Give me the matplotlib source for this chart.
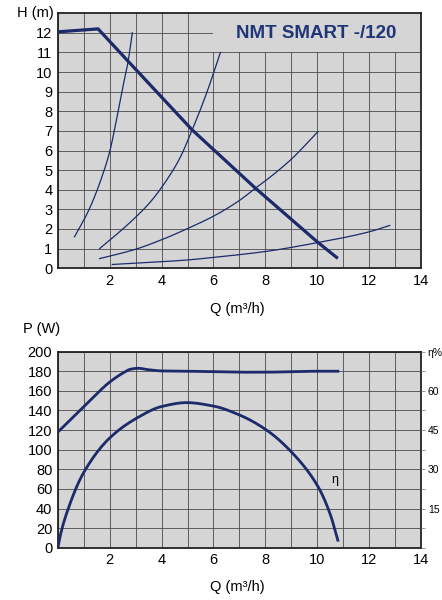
import matplotlib.pyplot as plt
import numpy as np

plt.rcParams['font.family'] = ['Liberation Sans', 'DejaVu Sans']

# pump curve H(Q)
pump_q = [0.0, 1.55, 2.71, 5.18, 7.62, 10.0, 10.8]
pump_h = [12.05, 12.2, 10.55, 7.05, 4.08, 1.35, 0.5]

# system curves
sys1_q = [0.64, 1.0, 1.29, 1.67, 2.0, 2.25, 2.5, 2.71, 2.87]
sys1_h = [1.6, 2.45, 3.25, 4.55, 5.95, 7.5, 9.2, 10.55, 12.0]
sys2_q = [1.61, 2.2, 2.96, 3.55, 4.2, 4.7, 5.18, 5.73, 6.27]
sys2_h = [1.0, 1.65, 2.55, 3.35, 4.5, 5.6, 7.05, 8.9, 11.0]
sys3_q = [1.61, 2.96, 4.0, 5.0, 6.0, 7.0, 7.62, 8.0, 9.0, 10.03]
sys3_h = [0.49, 0.95, 1.45, 2.02, 2.65, 3.45, 4.08, 4.45, 5.55, 6.96]
sys4_q = [2.1, 4.0, 5.0, 6.0, 8.0, 10.0, 12.0, 12.8]
sys4_h = [0.19, 0.33, 0.42, 0.55, 0.85, 1.3, 1.85, 2.18]

# power P(Q)
pow_q = [0.0, 0.5, 1.0, 1.5, 2.0, 2.5, 2.8, 3.1, 3.5, 4.0, 5.0, 6.0, 7.0, 8.0, 9.0, 10.0, 10.8]
pow_p = [118, 131, 144, 157, 169, 178, 182, 183, 181.5, 180.3, 180, 179.5, 179, 179, 179.6, 180, 180]

# efficiency eta(Q) in %
eta_q = [0.0, 0.1, 0.33, 0.98, 2.0, 3.03, 4.0, 4.96, 5.99, 7.0, 8.05, 9.07, 10.04, 10.5, 10.8]
eta_v = [0.0, 5.0, 13.0, 28.5, 42.0, 49.5, 54.0, 55.5, 54.2, 50.8, 45.0, 36.0, 23.3, 13.0, 2.9]

navy = '#1b2a6b'
bg = '#d5d5d5'
gridc = '#4a4a4a'


def smooth(x, y, n=200):
    x = np.asarray(x, float)
    y = np.asarray(y, float)
    t = np.linspace(x[0], x[-1], n)
    # monotone cubic (PCHIP-like) through the read points
    h = np.diff(x)
    d = np.diff(y) / h
    m = np.zeros_like(y)
    m[0], m[-1] = d[0], d[-1]
    for i in range(1, len(x) - 1):
        if d[i - 1] * d[i] > 0:
            w1 = 2 * h[i] + h[i - 1]
            w2 = h[i] + 2 * h[i - 1]
            m[i] = (w1 + w2) / (w1 / d[i - 1] + w2 / d[i])
    k = np.clip(np.searchsorted(x, t) - 1, 0, len(x) - 2)
    s = (t - x[k]) / h[k]
    h00 = 2 * s**3 - 3 * s**2 + 1
    h10 = s**3 - 2 * s**2 + s
    h01 = -2 * s**3 + 3 * s**2
    h11 = s**3 - s**2
    return t, h00 * y[k] + h10 * h[k] * m[k] + h01 * y[k + 1] + h11 * h[k] * m[k + 1]


fig = plt.figure(figsize=(4.42, 6.0), dpi=100)
ax1 = fig.add_axes([0.131, 0.553, 0.821, 0.425])
ax2 = fig.add_axes([0.131, 0.087, 0.821, 0.327])

for ax in (ax1, ax2):
    ax.set_facecolor(bg)
    ax.set_xlim(0, 14)
    ax.set_xticks(range(2, 15, 2))
    ax.set_xticks(range(0, 15), minor=True)
    ax.grid(True, which='both', color=gridc, linewidth=0.6)
    ax.set_axisbelow(True)
    ax.tick_params(which='both', length=0, labelsize=10.5, pad=4)
    for sp in ax.spines.values():
        sp.set_linewidth(1.3)
        sp.set_color('#222222')

# top chart
ax1.set_ylim(0, 13)
ax1.set_yticks(range(0, 13))
ax1.add_patch(plt.Rectangle((6.0, 11.03), 8.0, 2.0, facecolor=bg, edgecolor='none', zorder=1))
ax1.text(9.95, 11.95, 'NMT SMART -/120', color='#1f3577', fontsize=13.5,
         fontweight='bold', ha='center', va='center', zorder=2)
for q, h in [(sys1_q, sys1_h), (sys2_q, sys2_h), (sys3_q, sys3_h), (sys4_q, sys4_h)]:
    tq, th = smooth(q, h)
    ax1.plot(tq, th, color=navy, linewidth=0.9, zorder=3)
ax1.plot(pump_q, pump_h, color=navy, linewidth=2.3, zorder=4, solid_capstyle='butt')
fig.text(0.08, 0.979, 'H (m)', fontsize=10.5, ha='center', va='center')
fig.text(0.537, 0.485, 'Q (m³/h)', fontsize=10.5, ha='center', va='center')

# bottom chart
ax2.set_ylim(0, 200)
ax2.set_yticks(range(0, 201, 20))
tq, tp = smooth(pow_q, pow_p)
ax2.plot(tq, tp, color=navy, linewidth=2.0, zorder=4)
ax3 = ax2.twinx()
ax3.set_ylim(0, 75)
ax3.set_yticks(np.arange(0, 75.1, 7.5))
ax3.set_yticklabels(['', '', '15', '', '30', '', '45', '', '60', '', 'η%'])
ax3.tick_params(length=3, width=0.6, color='#888888', labelsize=7.5, pad=2)
for sp in ax3.spines.values():
    sp.set_visible(False)
tq, te = smooth(eta_q, eta_v)
ax3.plot(tq, te, color=navy, linewidth=2.0, zorder=4)
ax3.text(10.68, 26, 'η', fontsize=9, ha='center', va='center')
fig.text(0.095, 0.452, 'P (W)', fontsize=10.5, ha='center', va='center')
fig.text(0.537, 0.022, 'Q (m³/h)', fontsize=10.5, ha='center', va='center')

fig.savefig('out.png', dpi=100)
